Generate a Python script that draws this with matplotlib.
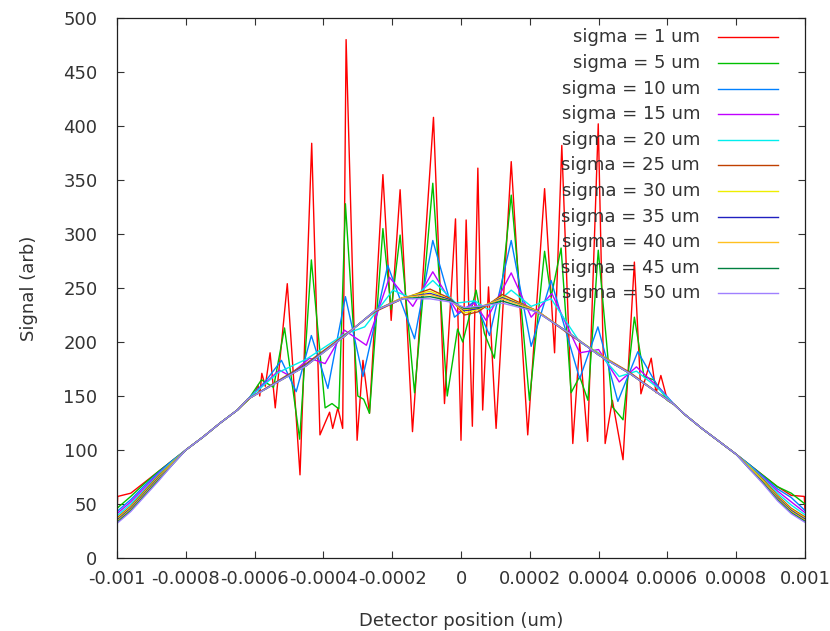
import numpy as np
import matplotlib
matplotlib.use("Agg")
import matplotlib.pyplot as plt

plt.rcParams['font.family'] = ['DejaVu Sans']
plt.rcParams['axes.unicode_minus'] = False

# x positions are given in units of 1e-6 (axis units), values in arb
sigmas = [1, 5, 10, 15, 20, 25, 30, 35, 40, 45, 50]
colors = ['#ff0000', '#00c000', '#0080ff', '#c000ff', '#00eeee', '#c04000',
          '#eeee00', '#2020c0', '#ffc020', '#008040', '#a080ff']

# shared straight flanks (all curves coincide here)
ramp_lx = [-800, -750, -700, -650]
ramp_ly = [100, 112, 125, 137]
ramp_rx = [650, 700, 750, 800]
ramp_ry = [133, 120, 108, 96]

# edges
edge_lx = [-1000, -960, -920, -880, -840]
edge_rx = [840, 880, 920, 960, 1000]

# sigma = 1 um
s1_lx = [-1000, -998, -960, -920, -880, -840]
s1_ly = [42, 57, 60, 70, 80, 90]
s1_rx = [840, 880, 920, 960, 998, 1000]
s1_ry = [86, 76, 66, 58, 57, 44]
s1_x = [-620, -600, -590, -585, -579, -569, -555, -540, -505, -468,
        -434, -410, -382, -373, -358, -344, -334, -302, -285, -266,
        -227, -203, -177, -141, -80, -48, -16, 0, 15, 33,
        49, 63, 80, 102, 146, 194, 243, 272, 293, 325,
        345, 368, 399, 419, 440, 471, 504, 523, 553, 567,
        581, 600, 620]
s1_y = [146, 152, 160, 150, 171, 159, 190, 139, 254, 77,
        384, 114, 135, 120, 139, 120, 480, 109, 183, 134,
        355, 220, 341, 117, 408, 143, 314, 109, 313, 122,
        361, 137, 251, 120, 367, 114, 342, 190, 382, 106,
        199, 108, 402, 106, 146, 91, 274, 152, 185, 153,
        169, 146, 142]

# sigma = 5 um
s5_ly = [46, 57, 69, 80, 90]
s5_ry = [86, 76, 66, 60, 50]
s5_x = [-620, -580, -545, -513, -469, -435, -395, -375, -355, -336,
        -300, -283, -266, -227, -203, -177, -135, -82, -40, -10,
        5, 44, 68, 97, 146, 199, 243, 262, 291, 320,
        345, 369, 399, 440, 471, 504, 532, 560, 600, 620]
s5_y = [146, 165, 158, 213, 110, 276, 139, 143, 138, 328,
        150, 147, 134, 305, 230, 299, 153, 347, 150, 212,
        200, 248, 208, 185, 336, 146, 284, 242, 287, 153,
        168, 146, 285, 140, 128, 223, 168, 165, 146, 142]

# sigma = 10 um
s10_ly = [43, 54, 67, 79, 90]
s10_ry = [86, 75, 64, 56, 44]
s10_x = [-620, -570, -522, -479, -435, -387, -336, -285, -213, -135,
         -82, -19, 40, 83, 146, 204, 262, 345, 398, 456,
         514, 570, 620]
s10_y = [147, 163, 183, 154, 206, 157, 242, 168, 271, 203,
         294, 223, 238, 206, 294, 196, 257, 166, 214, 145,
         191, 160, 142]

# sigma = 15 um
s15_ly = [41, 52, 65, 78, 89]
s15_ry = [85, 74, 62, 52, 42]
s15_x = [-620, -528, -500, -440, -395, -339, -275, -208, -140, -82,
         -10, 40, 73, 146, 204, 264, 345, 400, 460, 510, 570, 620]
s15_y = [147, 174, 169, 185, 180, 211, 197, 260, 233, 265,
         227, 236, 220, 264, 223, 245, 190, 193, 163, 177, 159, 142]

# sigma = 20 um
s20_ly = [39, 50, 63, 77, 89]
s20_ry = [85, 73, 60, 49, 40]
s20_x = [-620, -530, -450, -340, -280, -198, -140, -82, -15, 40,
         80, 146, 204, 262, 345, 400, 460, 510, 570, 620]
s20_y = [147, 172, 184, 207, 214, 248, 240, 257, 236, 238,
         230, 248, 233, 240, 200, 190, 168, 173, 158, 142]

# sigma = 25 ... 50 um (nearly smooth)
smooth_x = [-620, -450, -340, -250, -170, -90, -30, 10, 50, 120,
            220, 315, 400, 490, 620]
s25_ly = [37, 48, 62, 76, 88]
s25_ry = [84, 72, 58, 46, 38]
s25_y = [147, 180, 206, 228, 240, 249, 240, 225, 228, 244, 229, 207, 189, 172, 142]
s30_ly = [36, 47, 61, 75, 88]
s30_ry = [84, 71, 57, 45, 37]
s30_y = [147, 179, 205, 229, 241, 247, 239, 227, 230, 242, 229, 208, 189, 171, 142]
s35_ly = [35, 46, 60, 74, 87]
s35_ry = [83, 70, 56, 44, 36]
s35_y = [147, 179, 205, 229, 241, 245, 239, 229, 231, 241, 229, 208, 188, 171, 142]
s40_ly = [34, 45, 59, 73, 87]
s40_ry = [83, 70, 55, 43, 35]
s40_y = [147, 178, 205, 229, 241, 244, 238, 230, 232, 240, 229, 208, 188, 171, 142]
s45_ly = [33, 44, 58, 72, 86]
s45_ry = [82, 69, 54, 42, 34]
s45_y = [147, 178, 205, 229, 240, 242, 238, 231, 232, 238, 228, 208, 188, 171, 142]
s50_ly = [32, 43, 57, 71, 86]
s50_ry = [82, 68, 53, 41, 33]
s50_y = [147, 178, 205, 229, 240, 240, 237, 232, 233, 236, 228, 208, 188, 171, 142]

xticks = [-0.001, -0.0008, -0.0006, -0.0004, -0.0002, 0, 0.0002, 0.0004, 0.0006, 0.0008, 0.001]
xtick_labels = ['-0.001', '-0.0008', '-0.0006', '-0.0004', '-0.0002', '0',
                '0.0002', '0.0004', '0.0006', '0.0008', '0.001']
yticks = list(range(0, 501, 50))


def curve(lx, ly, mx, my, rx, ry):
    x = np.array(lx + ramp_lx + mx + ramp_rx + rx) * 1e-6
    y = np.array(ly + ramp_ly + my + ramp_ry + ry)
    return x, y


curves = [
    curve(s1_lx, s1_ly, s1_x, s1_y, s1_rx, s1_ry),
    curve(edge_lx, s5_ly, s5_x, s5_y, edge_rx, s5_ry),
    curve(edge_lx, s10_ly, s10_x, s10_y, edge_rx, s10_ry),
    curve(edge_lx, s15_ly, s15_x, s15_y, edge_rx, s15_ry),
    curve(edge_lx, s20_ly, s20_x, s20_y, edge_rx, s20_ry),
    curve(edge_lx, s25_ly, smooth_x, s25_y, edge_rx, s25_ry),
    curve(edge_lx, s30_ly, smooth_x, s30_y, edge_rx, s30_ry),
    curve(edge_lx, s35_ly, smooth_x, s35_y, edge_rx, s35_ry),
    curve(edge_lx, s40_ly, smooth_x, s40_y, edge_rx, s40_ry),
    curve(edge_lx, s45_ly, smooth_x, s45_y, edge_rx, s45_ry),
    curve(edge_lx, s50_ly, smooth_x, s50_y, edge_rx, s50_ry),
]

txt = '#333333'
fig = plt.figure(figsize=(8.3, 6.31), dpi=100)
ax = fig.add_axes([117/830, 73/631, 688/830, 540/631])

for (x, y), c in zip(curves, colors):
    ax.plot(x, y, color=c, lw=1.0)

ax.set_xlim(-0.001, 0.001)
ax.set_ylim(0, 500)
ax.set_xticks(xticks)
ax.set_xticklabels(xtick_labels)
ax.set_yticks(yticks)
ax.tick_params(direction='in', top=True, right=True, length=5, width=0.8,
               labelsize=13, colors=txt)
ax.tick_params(axis='x', pad=9)
ax.tick_params(axis='y', pad=14)
for s in ax.spines.values():
    s.set_linewidth(0.9)
    s.set_color('#202020')

ax.set_xlabel("Detector position (um)", fontsize=13, color=txt)
ax.set_ylabel("Signal (arb)", fontsize=13, color=txt)
ax.xaxis.set_label_coords(0.5, -0.10)
ax.yaxis.set_label_coords(-0.115, 0.5)

# key, gnuplot style: right-aligned text then sample line
for i, (s, c) in enumerate(zip(sigmas, colors)):
    yy = (558 - (37.3 + 25.6 * i)) / 540
    ax.text(0.8474, yy, "sigma = %d um" % s, transform=ax.transAxes,
            ha='right', va='center', fontsize=13, color=txt)
    ax.plot([0.8735, 0.9608], [yy, yy], transform=ax.transAxes, color=c, lw=1.0)

fig.savefig("out.png", dpi=100)
